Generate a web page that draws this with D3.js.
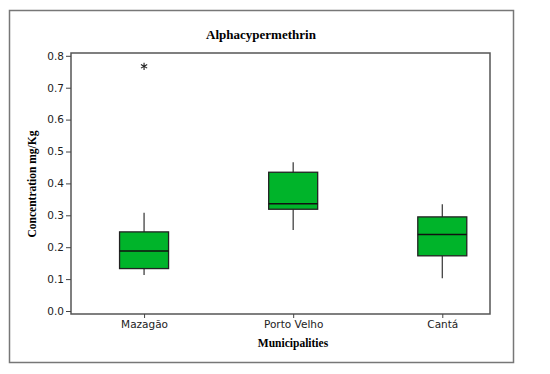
<!DOCTYPE html>
<meta charset="utf-8">
<style>
  body { margin: 0; background: #fff; }
  .tick text { font-family: "DejaVu Sans", Verdana, sans-serif; font-size: 10.5px; fill: #222; }
</style>
<body>
<script src="https://d3js.org/d3.v7.min.js"></script>
<script>
  // data
  const places = ["Mazagão", "Porto Velho", "Cantá"];
  const whiskLow = [0.113, 0.254, 0.103];
  const q1 = [0.133, 0.319, 0.173];
  const median = [0.188, 0.336, 0.240];
  const q3 = [0.248, 0.435, 0.295];
  const whiskHigh = [0.308, 0.466, 0.335];
  const outliers = [[0, 0.767]];
  const yTicks = [0.0, 0.1, 0.2, 0.3, 0.4, 0.5, 0.6, 0.7, 0.8];

  const W = 550, H = 374;
  const plot = {left: 71, right: 490, top: 53, bottom: 314};

  const svg = d3.select("body").append("svg")
    .attr("width", W).attr("height", H);

  // outer frame
  svg.append("rect")
    .attr("x", 9.5).attr("y", 10.5).attr("width", 504).attr("height", 352)
    .attr("fill", "none").attr("stroke", "#777").attr("stroke-width", 1.5);

  const y = d3.scaleLinear().domain([-0.0094, 0.8088]).range([plot.bottom, plot.top]);
  // categories at index positions, unequal side margins as in the picture
  const x = d3.scaleLinear().domain([-0.49, 2.32]).range([plot.left, plot.right]);

  // plot box
  svg.append("rect")
    .attr("x", plot.left).attr("y", plot.top)
    .attr("width", plot.right - plot.left).attr("height", plot.bottom - plot.top)
    .attr("fill", "none").attr("stroke", "#555").attr("stroke-width", 1.5);

  const yAxis = svg.append("g")
    .attr("transform", `translate(${plot.left},0)`)
    .call(d3.axisLeft(y).tickValues(yTicks).tickFormat(d3.format(".1f")).tickSize(5).tickPadding(2));
  yAxis.select(".domain").remove();
  yAxis.selectAll("line").attr("stroke", "#444");

  const xAxis = svg.append("g")
    .attr("transform", `translate(0,${plot.bottom})`)
    .call(d3.axisBottom(x).tickValues([0, 1, 2]).tickFormat(i => places[i]).tickSize(4).tickPadding(3));
  xAxis.select(".domain").remove();
  xAxis.selectAll("line").attr("stroke", "#444");

  // boxes
  const boxW = 49;
  const g = svg.append("g");
  const box = g.selectAll("g.box").data(places.map((p, i) => i)).join("g").attr("class", "box");

  box.append("line")
    .attr("x1", i => x(i)).attr("x2", i => x(i))
    .attr("y1", i => y(whiskHigh[i])).attr("y2", i => y(q3[i]))
    .attr("stroke", "#333").attr("stroke-width", 1.2);
  box.append("line")
    .attr("x1", i => x(i)).attr("x2", i => x(i))
    .attr("y1", i => y(q1[i])).attr("y2", i => y(whiskLow[i]))
    .attr("stroke", "#333").attr("stroke-width", 1.2);
  box.append("rect")
    .attr("x", i => x(i) - boxW / 2).attr("width", boxW)
    .attr("y", i => y(q3[i])).attr("height", i => y(q1[i]) - y(q3[i]))
    .attr("fill", "#00b42a").attr("stroke", "#222").attr("stroke-width", 1.3);
  box.append("line")
    .attr("x1", i => x(i) - boxW / 2).attr("x2", i => x(i) + boxW / 2)
    .attr("y1", i => y(median[i])).attr("y2", i => y(median[i]))
    .attr("stroke", "#111").attr("stroke-width", 1.6);

  // outlier drawn as an asterisk
  g.selectAll("path.out").data(outliers).join("path")
    .attr("class", "out")
    .attr("transform", d => `translate(${x(d[0])},${y(d[1])})`)
    .attr("d", d3.symbol(d3.symbolAsterisk, 36))
    .attr("fill", "none").attr("stroke", "#222").attr("stroke-width", 1.1);

  // titles
  svg.append("text")
    .attr("x", 261).attr("y", 39)
    .attr("text-anchor", "middle")
    .attr("font-family", "Liberation Serif, serif").attr("font-weight", "bold").attr("font-size", 13)
    .text("Alphacypermethrin");

  svg.append("text")
    .attr("x", 293).attr("y", 347)
    .attr("text-anchor", "middle")
    .attr("font-family", "Liberation Serif, serif").attr("font-weight", "bold").attr("font-size", 11.5)
    .text("Municipalities");

  svg.append("text")
    .attr("transform", "translate(36,184) rotate(-90)")
    .attr("text-anchor", "middle")
    .attr("font-family", "Liberation Serif, serif").attr("font-weight", "bold").attr("font-size", 11.5)
    .text("Concentration mg/Kg");
</script>
</body>
